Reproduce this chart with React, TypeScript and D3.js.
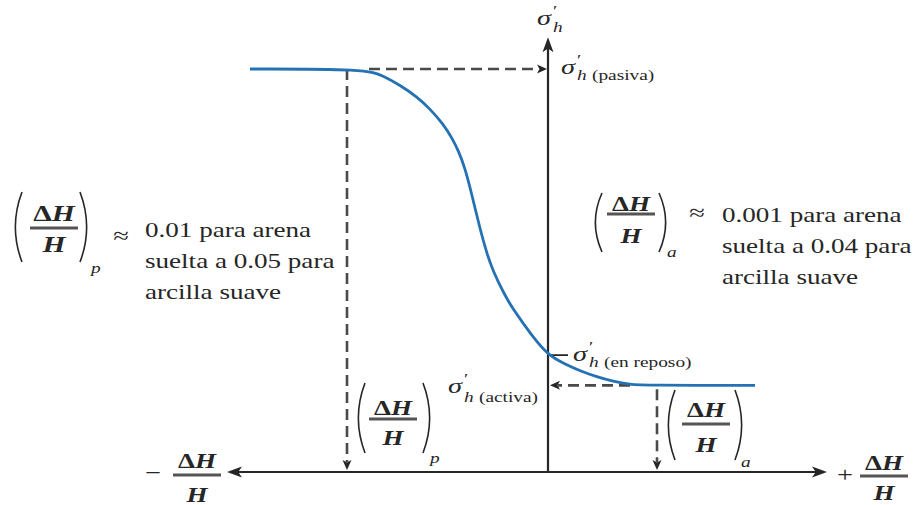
import React from "react";
import * as d3 from "d3";

// Horizontal: wall movement ΔH/H (arbitrary units, origin = wall at rest)
// Vertical: lateral effective stress σ'h, normalised to the passive value
const curveStrain = [
  -2.98, -1.81, -1.65, -1.48, -1.31, -1.18, -1.05, -0.96, -0.89, -0.83, -0.76,
  -0.68, -0.61, -0.55, -0.45, -0.35, -0.25, -0.15, 0.0, 0.17, 0.32, 0.49, 0.65,
  0.82, 0.97, 2.07,
];
const curveSigma = [
  1.0, 1.0, 0.983, 0.96, 0.931, 0.901, 0.864, 0.829, 0.794, 0.754, 0.687,
  0.603, 0.541, 0.499, 0.447, 0.404, 0.37, 0.335, 0.29, 0.268, 0.251, 0.236,
  0.225, 0.217, 0.215, 0.215,
];

const sigmaPassive = 1.0;
const sigmaAtRest = 0.29;
const sigmaActive = 0.215;
const strainPassive = -2.01;
const strainActive = 1.09;
const passiveCurveStart = -1.79;
const activeCurveEnd = 0.82;
const strainAxis = [-3.21, 2.79];
const sigmaAxisTop = 1.079;

const noteLeft = ["0.01 para arena", "suelta a 0.05 para", "arcilla suave"];
const noteRight = ["0.001 para arena", "suelta a 0.04 para", "arcilla suave"];

const W = 922;
const H = 505;
const SX = 1.29; // horizontal stretch of the typeface
const INK = "#262626";
const DASH = "#4a4a4a";
const BLUE = "#2471b3";
const FONT = "'Liberation Serif', 'Times New Roman', serif";

const x = d3.scaleLinear().domain(strainAxis).range([227, 827]);
const y = d3.scaleLinear().domain([0, 1]).range([472, 69]);

type TP = {
  x: number;
  y: number;
  size: number;
  children: React.ReactNode;
  italic?: boolean;
  bold?: boolean;
  anchor?: "start" | "middle" | "end";
};

function T({ x, y, size, children, italic, bold, anchor = "start" }: TP) {
  return (
    <text
      transform={`translate(${x},${y}) scale(${SX},1)`}
      fontFamily={FONT}
      fontSize={size}
      fontStyle={italic ? "italic" : "normal"}
      fontWeight={bold ? "bold" : "normal"}
      textAnchor={anchor}
      fill={INK}
    >
      {children}
    </text>
  );
}

function Paren({ x0, top, bottom, right }: { x0: number; top: number; bottom: number; right?: boolean }) {
  const w = 7;
  const mid = (top + bottom) / 2;
  const d = right
    ? `M${x0} ${top} Q${x0 + w * 1.9} ${mid} ${x0} ${bottom}`
    : `M${x0 + w} ${top} Q${x0 - w * 0.9} ${mid} ${x0 + w} ${bottom}`;
  return <path d={d} fill="none" stroke={INK} strokeWidth={1.6} />;
}

function Frac({ cx, num, bar, den, half, size = 22 }: { cx: number; num: number; bar: number; den: number; half: number; size?: number }) {
  return (
    <g>
      <T x={cx} y={num} size={size} bold anchor="middle">
        <tspan fontStyle="normal">Δ</tspan>
        <tspan fontStyle="italic">H</tspan>
      </T>
      <line x1={cx - half} x2={cx + half} y1={bar} y2={bar} stroke="#555" strokeWidth={3} />
      <T x={cx} y={den} size={size} bold italic anchor="middle">
        H
      </T>
    </g>
  );
}

function Arrow({ tx, ty, dir, len, half }: { tx: number; ty: number; dir: "l" | "r" | "u" | "d"; len: number; half: number }) {
  const notch = len * 0.25;
  let pts: number[][];
  if (dir === "r") pts = [[tx, ty], [tx - len, ty - half], [tx - len + notch, ty], [tx - len, ty + half]];
  else if (dir === "l") pts = [[tx, ty], [tx + len, ty - half], [tx + len - notch, ty], [tx + len, ty + half]];
  else if (dir === "u") pts = [[tx, ty], [tx - half, ty + len], [tx, ty + len - notch], [tx + half, ty + len]];
  else pts = [[tx, ty], [tx - half, ty - len], [tx, ty - len + notch], [tx + half, ty - len]];
  return <polygon points={pts.map((p) => p.join(",")).join(" ")} fill={INK} />;
}

function Sigma({ x0, base, sub, suffix, size = 22 }: { x0: number; base: number; sub: number; suffix?: string; size?: number }) {
  return (
    <g>
      <T x={x0} y={base} size={size} italic>
        σ
      </T>
      <T x={x0 + 16} y={base - 9} size={15}>
        ′
      </T>
      <T x={x0 + 16} y={sub} size={15} italic>
        h
      </T>
      {suffix && (
        <T x={x0 + 31} y={sub} size={15}>
          {suffix}
        </T>
      )}
    </g>
  );
}

export default function App() {
  const pts: [number, number][] = curveStrain.map((s, i) => [x(s), y(curveSigma[i])]);
  const line = d3.line().curve(d3.curveBasis)(pts) ?? "";

  const x0 = x(0);
  const yAxis = y(0);
  const yP = y(sigmaPassive);
  const yR = y(sigmaAtRest);
  const yA = y(sigmaActive);
  const xP = x(strainPassive);
  const xA = x(strainActive);
  const dashStyle = { stroke: DASH, strokeWidth: 2.6, strokeDasharray: "11 6", fill: "none" };

  return (
    <svg
      width={W}
      height={H}
      viewBox={`0 0 ${W} ${H}`}
      style={{ position: "absolute", left: 0, top: 0, background: "#fff" }}
    >
      <rect width={W} height={H} fill="#fff" />

      {/* axes */}
      <line x1={x(strainAxis[0]) + 10} x2={x(strainAxis[1]) - 10} y1={yAxis} y2={yAxis} stroke={INK} strokeWidth={2.2} />
      <Arrow tx={x(strainAxis[0])} ty={yAxis} dir="l" len={15} half={5.5} />
      <Arrow tx={x(strainAxis[1])} ty={yAxis} dir="r" len={15} half={5.5} />
      <line x1={x0} x2={x0} y1={yAxis} y2={y(sigmaAxisTop) + 10} stroke={INK} strokeWidth={2.2} />
      <Arrow tx={x0} ty={y(sigmaAxisTop)} dir="u" len={15} half={5.5} />

      {/* dashed guides */}
      <line x1={x(passiveCurveStart)} x2={x0 - 9} y1={yP} y2={yP} style={dashStyle} />
      <Arrow tx={x0 - 1} ty={yP} dir="r" len={10} half={4.5} />
      <line x1={xP} x2={xP} y1={yP} y2={yAxis - 10} style={dashStyle} />
      <Arrow tx={xP} ty={yAxis - 2} dir="d" len={10} half={4.5} />
      <line x1={x(activeCurveEnd)} x2={x0 + 10} y1={yA} y2={yA} style={dashStyle} />
      <Arrow tx={x0 + 2} ty={yA} dir="l" len={10} half={4.5} />
      <line x1={xA} x2={xA} y1={yA + 4} y2={yAxis - 10} style={dashStyle} />
      <Arrow tx={xA} ty={yAxis - 2} dir="d" len={10} half={4.5} />

      {/* at-rest tick */}
      <line x1={x0} x2={x0 + 20} y1={yR} y2={yR} stroke={INK} strokeWidth={1.8} />

      {/* stress–movement curve */}
      <path d={line} fill="none" stroke={BLUE} strokeWidth={2.8} />

      {/* stress labels */}
      <Sigma x0={537} base={25} sub={32} />
      <Sigma x0={561} base={74} sub={80} suffix="(pasiva)" />
      <Sigma x0={573} base={361} sub={367} suffix="(en reposo)" />
      <Sigma x0={448} base={393} sub={402} suffix="(activa)" />

      {/* passive movement note */}
      <Paren x0={15} top={192} bottom={262} />
      <Frac cx={54} num={221} bar={228} den={252} half={24} size={23} />
      <Paren x0={80} top={192} bottom={262} right />
      <T x={91} y={273} size={15} italic>p</T>
      <T x={121} y={243} size={22} anchor="middle">≈</T>
      {noteLeft.map((s, i) => (
        <T key={s} x={145} y={237 + i * 31} size={21}>
          {s}
        </T>
      ))}

      {/* active movement note */}
      <Paren x0={595} top={193} bottom={252} />
      <Frac cx={631} num={211} bar={214} den={243} half={24} size={21} />
      <Paren x0={659} top={193} bottom={252} right />
      <T x={667} y={257} size={15} italic>a</T>
      <T x={697} y={220} size={22} anchor="middle">≈</T>
      {noteRight.map((s, i) => (
        <T key={s} x={722} y={222 + i * 31} size={21}>
          {s}
        </T>
      ))}

      {/* movement markers on the axis */}
      <Paren x0={358} top={383} bottom={453} />
      <Frac cx={393} num={415} bar={419} den={445} half={24} size={21} />
      <Paren x0={423} top={383} bottom={453} right />
      <T x={430} y={463} size={15} italic>p</T>

      <Paren x0={668} top={390} bottom={460} />
      <Frac cx={706} num={417} bar={424} den={452} half={24} size={21} />
      <Paren x0={735} top={390} bottom={460} right />
      <T x={741} y={467} size={15} italic>a</T>

      {/* axis end labels */}
      <T x={153} y={480} size={22} anchor="middle">−</T>
      <Frac cx={197} num={468} bar={475} den={502} half={24} size={21} />
      <T x={845} y={482} size={22} anchor="middle">+</T>
      <Frac cx={884} num={470} bar={476} den={500} half={24} size={21} />
    </svg>
  );
}
